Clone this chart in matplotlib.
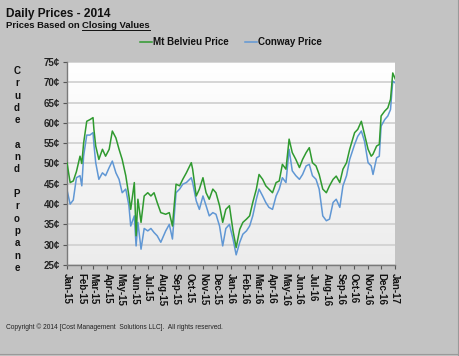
import matplotlib
matplotlib.use("Agg")
import matplotlib.pyplot as plt
import matplotlib.dates as mdates
import numpy as np
import pandas as pd
from matplotlib.lines import Line2D
from matplotlib.colors import LinearSegmentedColormap

# ---------------- data ----------------
dates = [
    "2015-01-01", "2015-01-08", "2015-01-15", "2015-01-22", "2015-01-30", "2015-02-03",
    "2015-02-07", "2015-02-14", "2015-02-21", "2015-02-28", "2015-03-02", "2015-03-06",
    "2015-03-13", "2015-03-21", "2015-03-28", "2015-04-05", "2015-04-12", "2015-04-20",
    "2015-04-27", "2015-05-04", "2015-05-12", "2015-05-19", "2015-05-23", "2015-05-31",
    "2015-06-04", "2015-06-08", "2015-06-15", "2015-06-22", "2015-06-30", "2015-07-07",
    "2015-07-14", "2015-07-21", "2015-07-29", "2015-08-09", "2015-08-17", "2015-08-24",
    "2015-09-01", "2015-09-09", "2015-09-16", "2015-09-24", "2015-10-05", "2015-10-08",
    "2015-10-16", "2015-10-23", "2015-10-31", "2015-11-07", "2015-11-14", "2015-11-22",
    "2015-11-29", "2015-12-07", "2015-12-14", "2015-12-21", "2015-12-29",
    "2016-01-06", "2016-01-13", "2016-01-21", "2016-01-28", "2016-02-05", "2016-02-12",
    "2016-02-19", "2016-02-27", "2016-03-04", "2016-03-12", "2016-03-19", "2016-03-26",
    "2016-04-03", "2016-04-11", "2016-04-18", "2016-04-25", "2016-05-03", "2016-05-10",
    "2016-05-17", "2016-05-25", "2016-06-02", "2016-06-09", "2016-06-17", "2016-06-24",
    "2016-07-01", "2016-07-09", "2016-07-16", "2016-07-24", "2016-08-01", "2016-08-08",
    "2016-08-16", "2016-08-23", "2016-08-31", "2016-09-07", "2016-09-15", "2016-09-22",
    "2016-10-03", "2016-10-10", "2016-10-18", "2016-10-25", "2016-11-02", "2016-11-09",
    "2016-11-13", "2016-11-21", "2016-11-27", "2016-12-01", "2016-12-09", "2016-12-16",
    "2016-12-22", "2016-12-27", "2017-01-02",
]
mt_belvieu = [
    50.2, 45.3, 45.7, 48.0, 51.8, 50.0,
    55.0, 60.4, 60.8, 61.3, 58.4, 54.3,
    51.0, 53.5, 51.8, 53.5, 58.0, 56.3,
    53.5, 51.0, 47.0, 42.0, 38.7, 45.3,
    32.2, 41.2, 35.5, 42.0, 42.8, 42.0,
    42.8, 40.4, 37.9, 37.5, 37.9, 34.6,
    44.9, 44.5, 46.1, 47.7, 50.2, 48.6,
    42.0, 43.7, 46.5, 42.8, 41.2, 43.7,
    42.8, 39.6, 35.5, 38.7, 39.6,
    33.4, 29.3, 33.8, 35.5, 36.3, 37.1,
    40.4, 43.7, 47.3, 46.1, 44.5, 43.7,
    42.8, 45.3, 45.7, 49.8, 48.6, 56.0,
    52.7, 51.0, 49.0, 51.0, 52.7, 53.9,
    50.2, 49.4, 47.3, 43.7, 42.8, 44.5,
    46.1, 46.9, 45.3, 48.6, 50.2, 53.5,
    57.6, 58.4, 60.4, 57.2, 53.5, 51.8,
    52.3, 54.3, 54.7, 61.7, 62.9, 63.7,
    65.8, 72.3, 70.7,
]
conway = [
    43.5, 40.0, 41.0, 46.5, 47.0, 44.5,
    51.8, 57.0, 57.0, 57.6, 54.7, 50.2,
    46.1, 47.7, 47.0, 49.0, 50.6, 47.7,
    46.1, 42.8, 43.7, 39.6, 34.6, 37.1,
    29.7, 35.5, 28.9, 34.0, 33.4, 34.0,
    33.0, 32.2, 30.6, 33.4, 35.0, 31.4,
    42.8, 43.7, 44.9, 45.3, 46.5, 45.3,
    40.8, 38.7, 42.0, 39.6, 37.1, 37.9,
    37.5, 34.6, 29.7, 34.0, 35.0,
    31.4, 27.5, 30.6, 32.6, 33.4, 34.6,
    37.1, 41.2, 43.7, 42.0, 40.4, 39.2,
    38.7, 42.0, 43.7, 46.5, 45.3, 53.5,
    48.2, 47.0, 46.1, 47.3, 49.4, 49.8,
    47.0, 46.1, 43.7, 37.1, 35.9, 36.3,
    40.4, 41.2, 39.2, 44.5, 47.0, 51.0,
    54.7, 56.7, 58.0, 55.5, 50.2, 49.4,
    47.3, 51.4, 51.8, 59.2, 60.8, 61.7,
    63.3, 70.3, 69.8,
]
y_ticks = [25, 30, 35, 40, 45, 50, 55, 60, 65, 70, 75]
series_names = ["Mt Belvieu Price", "Conway Price"]
ylabel_text = "Crude and Propane"

# ---------------- figure ----------------
W, H = 460, 356
BG = "#c3c3c3"
GREEN = "#2f9a2f"
BLUE = "#6097d4"
FONT = "Liberation Sans"

fig = plt.figure(figsize=(W / 100, H / 100), dpi=100, facecolor=BG)
ax = fig.add_axes([67 / W, 1 - 265 / H, 328 / W, 203 / H])
ax.set_facecolor("none")

# gradient plot-area background
grad = np.linspace(1.0, 0.0, 256).reshape(-1, 1)
cmap = LinearSegmentedColormap.from_list("g", ["#ececec", "#ffffff"])
ax.imshow(grad, extent=[0, 1, 0, 1], transform=ax.transAxes, cmap=cmap,
          aspect="auto", zorder=0, origin="upper")

x = pd.to_datetime(dates)
ax.plot(x, mt_belvieu, color=GREEN, lw=1.1, zorder=3)
ax.plot(x, conway, color=BLUE, lw=1.1, zorder=2)

ax.set_xlim(pd.Timestamp("2015-01-01"), pd.Timestamp("2017-01-01"))
ax.set_ylim(25, 75)
ax.set_yticks(y_ticks)
ax.set_yticklabels([f"{v}\u00a2" for v in y_ticks])
ax.grid(axis="y", color="#d2d2d2", lw=1.3, zorder=1)
ax.set_axisbelow(True)

ax.xaxis.set_major_locator(mdates.MonthLocator())
ax.xaxis.set_major_formatter(mdates.DateFormatter("%b-%y"))

for s in ["top", "right"]:
    ax.spines[s].set_visible(False)
for s in ["left", "bottom"]:
    ax.spines[s].set_color("#7a7a7a")
    ax.spines[s].set_linewidth(1.0)

ax.tick_params(axis="both", direction="out", length=3, width=0.8, color="#555555")
ax.tick_params(axis="y", pad=2)
ax.tick_params(axis="x", pad=3)
for lab in ax.get_yticklabels():
    lab.set_fontfamily(FONT)
    lab.set_fontweight("bold")
    lab.set_fontsize(7)
    lab.set_color("#222222")
for lab in ax.get_xticklabels():
    lab.set_fontfamily(FONT)
    lab.set_fontweight("bold")
    lab.set_fontsize(7)
    lab.set_rotation(270)
    lab.set_ha("center")
    lab.set_va("top")
    lab.set_color("#111111")

# titles
fig.text(6 / W, 1 - 14 / H, "Daily Prices - 2014", fontfamily=FONT, fontweight="bold",
         fontsize=8.6, va="center", ha="left", color="#111111")
t1 = fig.text(6 / W, 1 - 25.5 / H, "Prices Based on ", fontfamily=FONT, fontweight="bold",
              fontsize=6.8, va="center", ha="left", color="#111111")
fig.canvas.draw()
r = fig.canvas.get_renderer()
bb = t1.get_window_extent(r)
t2 = fig.text(bb.x1 / W, 1 - 25.5 / H, "Closing Values", fontfamily=FONT, fontweight="bold",
              fontsize=6.8, va="center", ha="left", color="#111111")
fig.canvas.draw()
bb2 = t2.get_window_extent(r)
fig.add_artist(Line2D([bb2.x0 / W, bb2.x1 / W], [(bb2.y0 - 0.3) / H] * 2,
                      transform=fig.transFigure, color="#111111", lw=0.7))

# legend
handles = [Line2D([], [], color=GREEN, lw=1.1), Line2D([], [], color=BLUE, lw=1.1)]
leg = fig.legend(handles, series_names, loc="center", bbox_to_anchor=(231 / W, 1 - 42 / H),
                 ncol=2, frameon=False, handlelength=1.3, handletextpad=0.1,
                 columnspacing=1.6, prop={"family": FONT, "weight": "bold", "size": 7})
for t in leg.get_texts():
    t.set_color("#111111")

# stacked y-axis label
letters = []
for w in ylabel_text.split(" "):
    letters.extend(list(w))
    letters.append(" ")
letters = letters[:-1]
y0, y1 = 71, 268
step = (y1 - y0) / (len(letters) - 1)
for i, ch in enumerate(letters):
    if ch == " ":
        continue
    fig.text(17 / W, 1 - (y0 + i * step) / H, ch, fontfamily=FONT, fontweight="bold",
             fontsize=7, ha="center", va="center", color="#111111")

# copyright
fig.text(6 / W, 1 - 327 / H,
         "Copyright \u00a9 2014 [Cost Management  Solutions LLC].  All rights reserved.",
         fontfamily=FONT, fontsize=4.8, ha="left", va="center", color="#222222")

# frame edges (right / bottom)
fig.add_artist(Line2D([458 / W, 458 / W], [0, 1], transform=fig.transFigure,
                      color="#9a9a9a", lw=0.8))
fig.add_artist(Line2D([0, 458 / W], [2.5 / H, 2.5 / H], transform=fig.transFigure,
                      color="#9a9a9a", lw=0.8))

fig.savefig("out.png", dpi=100, facecolor=BG)
